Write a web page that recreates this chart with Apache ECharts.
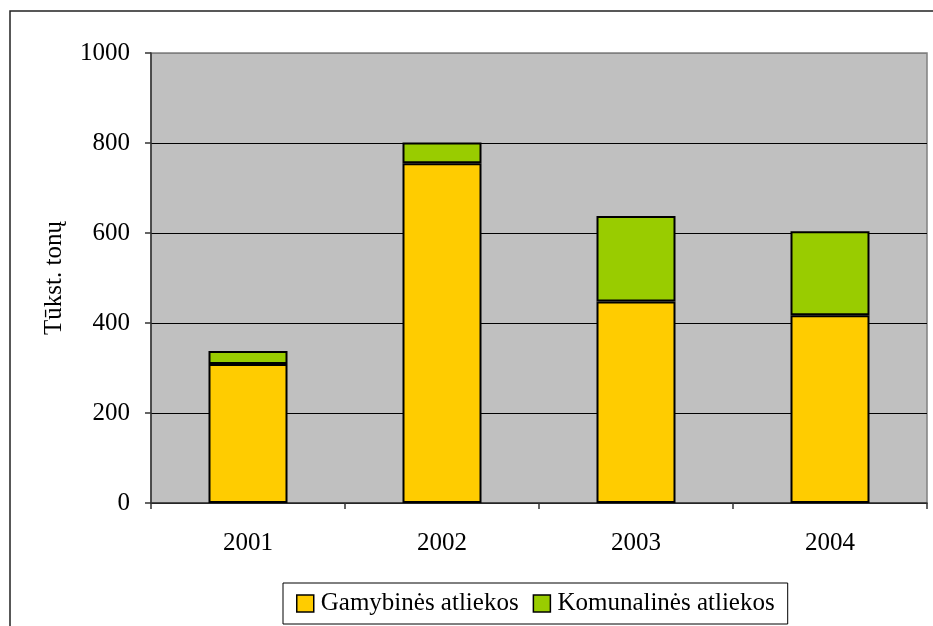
<!DOCTYPE html>
<html>
<head>
<meta charset="utf-8">
<script src="https://cdn.jsdelivr.net/npm/echarts@6/dist/echarts.min.js"></script>
<style>
  html, body { margin: 0; padding: 0; background: #fff; }
  #chart { width: 933px; height: 626px; }
</style>
</head>
<body>
<div id="chart"></div>
<script>
// Waste generated per year, thousand tonnes
const years = ['2001', '2002', '2003', '2004'];
const gamybines = [309, 755, 448, 417];
const komunalines = [29, 46, 190, 187];
const yTicks = { min: 0, max: 1000, interval: 200 };

const FONT = '"Liberation Serif", "Times New Roman", serif';

const chart = echarts.init(document.getElementById('chart'), null, { renderer: 'canvas' });

chart.setOption({
  backgroundColor: '#ffffff',
  animation: false,
  textStyle: { fontFamily: FONT, color: '#000' },
  graphic: [{
    type: 'rect',
    shape: { x: 10, y: 11, width: 1000, height: 1000 },
    style: { fill: 'none', stroke: '#222', lineWidth: 1.5 },
    z: 100
  }],
  grid: {
    left: 151, right: 6, top: 53, bottom: 123,
    show: true,
    backgroundColor: '#c0c0c0',
    borderColor: '#808080',
    borderWidth: 1.5
  },
  legend: {
    left: 283, top: 583,
    padding: [8, 13, 8, 13],
    borderColor: '#000',
    borderWidth: 1,
    backgroundColor: '#fff',
    itemWidth: 17, itemHeight: 17, itemGap: 14,
    icon: 'rect',
    itemStyle: { borderColor: '#000', borderWidth: 1.5 },
    textStyle: { fontFamily: FONT, fontSize: 25, color: '#000', padding: [0, 0, 0, 2] },
    data: ['Gamybinės atliekos', 'Komunalinės atliekos']
  },
  xAxis: {
    type: 'category',
    data: years,
    axisLine: { lineStyle: { color: '#333', width: 1.5 } },
    axisTick: { show: true, alignWithLabel: false, length: 6, lineStyle: { color: '#333', width: 1.5 } },
    axisLabel: { fontFamily: FONT, fontSize: 25, color: '#000', margin: 28 },
    splitLine: { show: false }
  },
  yAxis: {
    type: 'value',
    min: yTicks.min, max: yTicks.max, interval: yTicks.interval,
    name: 'Tūkst. tonų',
    nameLocation: 'middle',
    nameGap: 84,
    nameRotate: 90,
    nameTextStyle: { fontFamily: FONT, fontSize: 25, color: '#000' },
    axisLine: { show: true, lineStyle: { color: '#333', width: 1.5 } },
    axisTick: { show: true, length: 6, lineStyle: { color: '#333', width: 1.5 } },
    axisLabel: {
      fontFamily: FONT, fontSize: 25, color: '#000', margin: 21,
      formatter: (v) => String(v)
    },
    // gridlines are black; the top one coincides with the grey plot frame
    splitLine: {
      show: true,
      lineStyle: { color: ['#000', '#000', '#000', '#000', '#000', '#808080'], width: 1.2 }
    }
  },
  series: [
    {
      name: 'Gamybinės atliekos',
      type: 'bar',
      stack: 'total',
      barWidth: 79,
      data: gamybines,
      itemStyle: { color: '#ffcc00', borderColor: '#000', borderWidth: 2 }
    },
    {
      name: 'Komunalinės atliekos',
      type: 'bar',
      stack: 'total',
      barWidth: 79,
      data: komunalines,
      itemStyle: { color: '#99cc00', borderColor: '#000', borderWidth: 2 }
    }
  ]
});
</script>
</body>
</html>
